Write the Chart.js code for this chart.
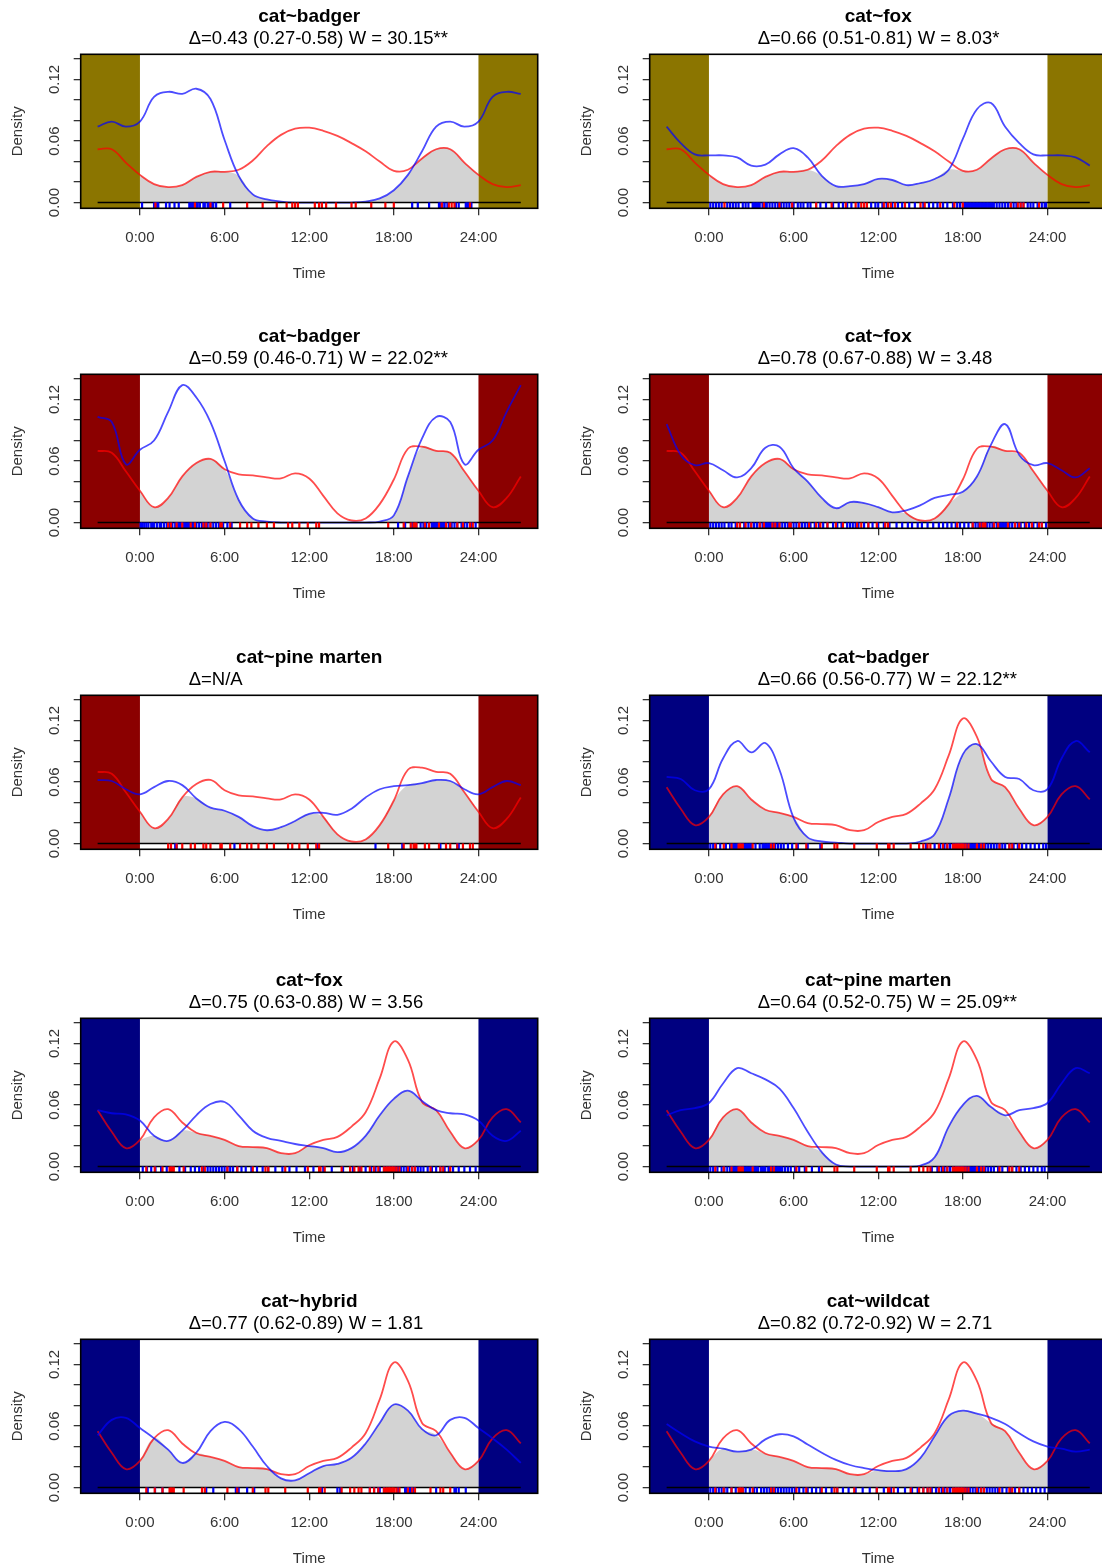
<!DOCTYPE html>
<html>
<head>
<meta charset="utf-8">
<script src="https://cdn.jsdelivr.net/npm/chart.js@4.4.1/dist/chart.umd.min.js"></script>
<style>
  html, body { margin: 0; padding: 0; background: #fff; }
  #page { position: relative; width: 1102px; height: 1566px; overflow: hidden; }
  #page canvas { position: absolute; }
</style>
</head>
<body>
<div id="page"></div>
<script>
// hour of day 0..23; curves are circular so -3..0 and 24..27 reuse these values
const HOURS = [0,1,2,3,4,5,6,7,8,9,10,11,12,13,14,15,16,17,18,19,20,21,22,23];
const PLOT_HOURS = [-3,-2,-1,0,1,2,3,4,5,6,7,8,9,10,11,12,13,14,15,16,17,18,19,20,21,22,23,24,25,26,27];
const DAY_HOURS = [0,1,2,3,4,5,6,7,8,9,10,11,12,13,14,15,16,17,18,19,20,21,22,23,24];

const X_TICKS = [0, 6, 12, 18, 24];
const X_TICK_LABELS = ['0:00', '6:00', '12:00', '18:00', '24:00'];
const Y_TICKS = [0, 0.02, 0.04, 0.06, 0.08, 0.10, 0.12, 0.14];
const Y_TICK_LABELS = ['0.00', '', '', '0.06', '', '', '0.12', ''];

const panelNames = ['cat~badger', 'cat~fox', 'cat~badger', 'cat~fox', 'cat~pine marten',
  'cat~badger', 'cat~fox', 'cat~pine marten', 'cat~hybrid', 'cat~wildcat'];
const panelStats = [
  'Δ=0.43 (0.27-0.58) W = 30.15**',
  'Δ=0.66 (0.51-0.81) W = 8.03*',
  'Δ=0.59 (0.46-0.71) W = 22.02**',
  'Δ=0.78 (0.67-0.88) W = 3.48',
  'Δ=N/A',
  'Δ=0.66 (0.56-0.77) W = 22.12**',
  'Δ=0.75 (0.63-0.88) W = 3.56',
  'Δ=0.64 (0.52-0.75) W = 25.09**',
  'Δ=0.77 (0.62-0.89) W = 1.81',
  'Δ=0.82 (0.72-0.92) W = 2.71'
];
const panelSeasons = ['olive', 'olive', 'darkred', 'darkred', 'darkred', 'navy', 'navy', 'navy', 'navy', 'navy'];

// cat density (red) per season
const catOlive   = [0.027,0.018,0.015,0.017,0.025,0.030,0.030,0.032,0.041,0.055,0.066,0.072,0.073,0.070,0.065,0.058,0.050,0.040,0.031,0.032,0.043,0.052,0.052,0.039];
const catDarkRed = [0.031,0.015,0.024,0.045,0.058,0.062,0.052,0.047,0.046,0.044,0.043,0.048,0.043,0.026,0.009,0.002,0.004,0.018,0.042,0.072,0.074,0.070,0.068,0.050];
const catNavy    = [0.026,0.048,0.056,0.043,0.033,0.030,0.026,0.020,0.019,0.018,0.013,0.013,0.021,0.026,0.029,0.039,0.053,0.086,0.122,0.104,0.063,0.055,0.034,0.018];

// other species density (blue), one per panel
const badgerOlive       = [0.079,0.103,0.108,0.106,0.111,0.101,0.061,0.026,0.008,0.003,0.001,0,0,0,0,0,0.001,0.004,0.012,0.027,0.050,0.074,0.079,0.074];
const foxOlive          = [0.046,0.046,0.044,0.036,0.037,0.047,0.053,0.044,0.026,0.016,0.016,0.018,0.023,0.022,0.017,0.019,0.023,0.032,0.062,0.091,0.097,0.074,0.058,0.047];
const badgerDarkRed     = [0.071,0.080,0.108,0.134,0.122,0.098,0.060,0.022,0.004,0.001,0,0,0,0,0,0,0,0.001,0.007,0.045,0.082,0.103,0.098,0.057];
const foxDarkRed        = [0.058,0.051,0.044,0.053,0.073,0.074,0.053,0.040,0.024,0.014,0.020,0.019,0.015,0.010,0.012,0.017,0.024,0.027,0.030,0.045,0.076,0.096,0.066,0.056];
const pineMartenDarkRed = [0.048,0.055,0.061,0.057,0.044,0.035,0.032,0.026,0.017,0.013,0.016,0.022,0.029,0.030,0.028,0.034,0.045,0.053,0.056,0.057,0.059,0.062,0.061,0.053];
const badgerNavy        = [0.053,0.083,0.100,0.089,0.098,0.072,0.025,0.006,0.002,0.001,0,0,0,0,0,0.002,0.009,0.044,0.087,0.097,0.080,0.065,0.063,0.052];
const foxNavy           = [0.045,0.030,0.025,0.035,0.050,0.061,0.063,0.050,0.035,0.028,0.025,0.022,0.020,0.018,0.014,0.018,0.030,0.050,0.066,0.074,0.064,0.055,0.052,0.051];
const pineMartenNavy    = [0.062,0.081,0.096,0.091,0.085,0.076,0.057,0.034,0.014,0.002,0,0,0,0,0,0.001,0.009,0.039,0.060,0.069,0.058,0.050,0.055,0.057];
const hybridNavy        = [0.058,0.048,0.037,0.024,0.034,0.055,0.064,0.057,0.040,0.021,0.009,0.007,0.014,0.021,0.023,0.029,0.043,0.063,0.081,0.075,0.057,0.051,0.066,0.068];
const wildcatNavy       = [0.040,0.038,0.035,0.037,0.047,0.052,0.050,0.042,0.034,0.027,0.022,0.019,0.017,0.016,0.018,0.029,0.050,0.070,0.075,0.072,0.068,0.062,0.053,0.045];

// detection times (hours) for the rugs
const rugCatOlive   = [1.1,3.9,5.0,5.9,7.6,8.7,9.7,10.4,10.8,11.0,11.2,12.4,12.7,12.9,13.2,13.9,15.0,15.3,16.4,17.4,18.0,21.4,21.9,22.1,22.3,23.4];
const rugCatDarkRed = [2.0,2.2,2.6,3.0,3.6,3.9,4.5,4.7,5.0,5.7,5.8,6.4,7.1,7.6,7.9,8.4,9.0,9.5,10.5,10.8,11.3,11.9,12.5,12.7,17.6,18.7,19.2,19.4,19.5,19.6,20.2,20.5,21.2,21.7,22.0,22.5,22.9,23.4,23.6];
const rugCatNavy    = [0.45,1.05,1.6,2.1,2.2,2.3,2.4,3.1,4.4,4.6,6.2,6.9,8.0,8.9,9.1,10.3,11.9,12.7,12.8,13.1,14.3,14.9,15.2,15.5,15.7,16.3,16.6,16.9,17.3,17.45,17.55,17.65,17.75,17.85,17.95,18.05,18.2,18.4,19.0,19.3,19.5,20.6,21.3,21.5,22.0];

const rugBadgerOlive = [0.15,1.0,1.1,1.15,1.25,1.3,1.85,2.1,2.45,2.75,3.5,3.6,3.7,3.8,4.0,4.1,4.25,4.5,4.6,4.8,4.9,5.0,5.1,5.2,5.4,6.4,19.3,19.7,20.5,21.2,21.3,21.35,21.45,21.6,21.8,22.4,22.6,23.1,23.2,23.3,23.5];
const rugFoxOlive = [0.1,0.3,0.5,0.7,0.9,1.3,1.5,1.7,1.9,2.1,2.4,2.6,2.8,3.1,3.2,3.3,3.4,3.5,3.6,3.8,4.0,4.1,4.3,4.5,4.7,4.9,5.1,5.3,5.5,5.7,5.9,6.0,6.3,6.5,6.7,7.0,7.2,7.6,7.9,8.3,8.8,9.2,9.5,9.8,10.1,10.6,11.0,11.5,11.8,12.0,12.3,12.6,13.0,13.4,13.7,14.2,14.6,15.2,15.6,15.9,16.2,16.6,16.9,17.3,17.6,17.8,18.0,18.1,18.2,18.3,18.4,18.5,18.6,18.7,18.8,18.9,19.0,19.1,19.2,19.3,19.4,19.5,19.6,19.7,19.8,19.9,20.0,20.1,20.2,20.4,20.6,20.8,21.0,21.2,21.4,21.6,21.8,22.1,22.3,22.6,22.8,23.0,23.3,23.6,23.8,23.9];
const rugBadgerDarkRed = [0.05,0.15,0.3,0.45,0.6,0.8,0.9,1.0,1.2,1.4,1.5,1.7,1.9,2.1,2.3,2.5,2.6,2.7,2.8,2.9,3.0,3.1,3.2,3.3,3.4,3.5,3.7,3.8,4.0,4.2,4.4,4.6,4.8,5.0,5.2,5.4,5.6,5.9,6.2,6.5,18.3,18.8,19.3,19.6,19.9,20.1,20.3,20.5,20.7,20.8,20.9,21.0,21.1,21.2,21.3,21.4,21.5,21.6,21.7,21.9,22.1,22.3,22.5,22.8,23.0,23.2,23.5,23.8];
const rugFoxDarkRed = [0.1,0.3,0.5,0.7,0.9,1.1,1.4,1.6,1.9,2.2,2.5,2.8,3.0,3.2,3.4,3.6,3.8,4.0,4.1,4.2,4.3,4.4,4.5,4.6,4.7,4.8,4.9,5.0,5.2,5.4,5.6,5.8,6.0,6.2,6.4,6.6,6.8,7.0,7.2,7.5,7.8,8.1,8.4,8.8,9.1,9.4,9.8,10.0,10.2,10.4,10.6,11.0,11.3,11.6,12.0,12.4,12.8,13.3,13.7,14.1,14.4,14.8,15.1,15.5,15.9,16.3,16.6,16.9,17.2,17.5,17.8,18.1,18.4,18.7,18.9,19.1,19.3,19.5,19.7,19.9,20.1,20.2,20.4,20.5,20.6,20.7,20.8,20.9,21.0,21.1,21.2,21.3,21.5,21.7,21.9,22.1,22.4,22.7,23.0,23.3,23.6,23.9];
const rugPineMartenDarkRed = [2.5,2.6,6.7,12.6,16.7,18.6,21.3,22.5,22.6];
const rugBadgerNavy = [0.1,0.3,0.5,0.8,1.2,1.5,1.7,1.8,1.9,2.0,2.1,2.2,2.3,2.4,2.5,2.6,2.7,2.8,2.9,3.0,3.3,3.6,3.8,3.9,4.0,4.1,4.2,4.3,4.4,4.5,4.7,4.9,5.1,5.3,5.6,5.9,6.3,7.0,7.9,15.4,16.0,16.4,16.7,16.9,17.1,17.3,17.4,17.5,17.6,17.7,17.8,17.9,18.0,18.1,18.2,18.3,18.4,18.5,18.6,18.7,18.8,18.9,19.0,19.1,19.2,19.3,19.4,19.6,19.8,20.0,20.2,20.4,20.6,20.8,21.0,21.3,21.6,21.9,22.2,22.5,22.8,23.1,23.4,23.7,23.9];
const rugFoxNavy = [0.2,0.5,0.8,1.1,1.5,1.9,2.3,2.8,3.2,3.6,3.9,4.2,4.5,4.8,5.0,5.2,5.4,5.6,5.8,6.0,6.2,6.4,6.6,6.9,7.2,7.5,7.9,8.3,8.7,9.1,9.6,10.1,10.6,11.1,11.7,12.3,13.0,13.6,14.4,15.1,15.6,16.0,16.4,16.7,17.0,17.3,17.5,17.7,17.9,18.1,18.3,18.5,18.7,18.9,19.1,19.3,19.5,19.7,19.9,20.1,20.4,20.7,21.0,21.3,21.6,21.9,22.2,22.6,23.0,23.4,23.8];
const rugPineMartenNavy = [0.1,0.3,0.6,0.9,1.1,1.3,1.5,1.6,1.7,1.8,1.9,2.0,2.1,2.2,2.3,2.4,2.5,2.6,2.7,2.8,2.9,3.0,3.1,3.2,3.3,3.4,3.5,3.7,3.8,3.9,4.0,4.2,4.3,4.4,4.5,4.6,4.7,4.8,4.9,5.0,5.1,5.2,5.4,5.6,5.8,6.1,6.4,6.8,7.3,7.8,15.8,16.2,16.5,16.7,16.9,17.1,17.3,17.5,17.6,17.7,17.8,17.9,18.0,18.1,18.2,18.3,18.4,18.5,18.6,18.7,18.8,18.9,19.0,19.1,19.2,19.3,19.4,19.5,19.6,19.8,20.0,20.2,20.5,20.8,21.2,21.5,21.8,22.1,22.4,22.7,23.0,23.3,23.6,23.8];
const rugHybridNavy = [0.55,1.07,1.6,4.7,5.2,6.8,7.0,7.6,8.1,12.9,14.0,14.2,16.3,16.6,16.9,17.0,17.3,18.3,18.8,18.9,19.0,19.1,19.2,19.3,19.4,21.0,22.3,22.4,22.6,23.1];
const rugWildcatNavy = [0.1,0.3,0.5,0.7,0.9,1.1,1.3,1.6,1.9,2.2,2.4,2.6,2.9,3.2,3.4,3.7,3.9,4.1,4.3,4.5,4.7,4.9,5.1,5.3,5.5,5.7,5.9,6.1,6.4,6.7,7.0,7.3,7.6,7.9,8.3,8.7,9.1,9.5,9.9,10.4,10.9,11.4,11.9,12.4,12.9,13.4,13.9,14.4,14.8,15.2,15.5,15.8,16.1,16.3,16.5,16.7,16.9,17.1,17.3,17.5,17.7,17.9,18.1,18.3,18.5,18.7,18.9,19.1,19.3,19.5,19.7,19.9,20.1,20.3,20.5,20.8,21.1,21.4,21.7,22.0,22.3,22.6,22.9,23.2,23.5,23.8];

const catBySeason = { olive: catOlive, darkred: catDarkRed, navy: catNavy };
const catRugBySeason = { olive: rugCatOlive, darkred: rugCatDarkRed, navy: rugCatNavy };
const otherDensity = [badgerOlive, foxOlive, badgerDarkRed, foxDarkRed, pineMartenDarkRed,
  badgerNavy, foxNavy, pineMartenNavy, hybridNavy, wildcatNavy];
const otherRug = [rugBadgerOlive, rugFoxOlive, rugBadgerDarkRed, rugFoxDarkRed, rugPineMartenDarkRed,
  rugBadgerNavy, rugFoxNavy, rugPineMartenNavy, rugHybridNavy, rugWildcatNavy];

// ---- styling / layout ----
const SEASON_COLORS = { olive: '#8B7500', darkred: '#8B0000', navy: '#000080' };
const FONT = '"Liberation Sans", Arial, Helvetica, sans-serif';
const COL_LEFT = [0, 569];
const ROW_TOP = [0, 320, 641, 964, 1285];
const RUG_Y = -0.0028;
const SUBTITLE_INDENT = 108;   // R put the stats line left-aligned, not centred

const wrap = (arr, h) => arr[((h % 24) + 24) % 24];

const seasonBox = {
  id: 'seasonBox',
  beforeDatasetsDraw(chart, args, opts) {
    const { ctx, chartArea: a, scales: { x } } = chart;
    const x0 = x.getPixelForValue(X_TICKS[0]);
    const x1 = x.getPixelForValue(X_TICKS[X_TICKS.length - 1]);
    ctx.save();
    ctx.fillStyle = opts.color;
    ctx.fillRect(a.left, a.top, x0 - a.left, a.bottom - a.top);
    ctx.fillRect(x1, a.top, a.right - x1, a.bottom - a.top);
    ctx.restore();
  },
  afterDatasetsDraw(chart) {
    const { ctx, chartArea: a } = chart;
    ctx.save();
    ctx.strokeStyle = '#000';
    ctx.lineWidth = 1.6;
    ctx.strokeRect(a.left, a.top, a.right - a.left, a.bottom - a.top);
    ctx.restore();
  },
  afterDraw(chart, args, opts) {
    const { ctx, chartArea: a } = chart;
    ctx.save();
    ctx.font = '18.5px ' + FONT;
    ctx.fillStyle = '#000';
    ctx.textAlign = 'left';
    ctx.textBaseline = 'middle';
    ctx.fillText(opts.stats, a.left + SUBTITLE_INDENT, a.top - 15.3);
    ctx.restore();
  }
};

function rugSet(times, color, order) {
  return {
    data: times.map(t => ({ x: t, y: RUG_Y })),
    showLine: false,
    pointStyle: 'line',
    pointRotation: 90,
    pointRadius: 3,
    pointBorderWidth: 2.2,
    pointBorderColor: color,
    order
  };
}

const page = document.getElementById('page');

panelNames.forEach((name, i) => {
  const season = panelSeasons[i];
  const cat = catBySeason[season];
  const other = otherDensity[i];

  const canvas = document.createElement('canvas');
  canvas.width = 551;
  canvas.height = 300;
  canvas.style.left = COL_LEFT[i % 2] + 'px';
  canvas.style.top = ROW_TOP[Math.floor(i / 2)] + 'px';
  page.appendChild(canvas);

  const tickFont = { family: FONT, size: 15, lineHeight: '18px' };

  new Chart(canvas, {
    type: 'line',
    data: {
      datasets: [
        rugSet(catRugBySeason[season], '#ff0000', 0),
        rugSet(otherRug[i], '#0000ff', 1),
        {
          data: [{ x: PLOT_HOURS[0], y: 0 }, { x: PLOT_HOURS[PLOT_HOURS.length - 1], y: 0 }],
          borderColor: '#000', borderWidth: 1.6, pointRadius: 0, order: 2
        },
        {
          data: PLOT_HOURS.map(h => ({ x: h, y: wrap(other, h) })),
          borderColor: 'rgba(0,0,255,0.7)', borderWidth: 1.8, tension: 0.4, pointRadius: 0, order: 3
        },
        {
          data: PLOT_HOURS.map(h => ({ x: h, y: wrap(cat, h) })),
          borderColor: 'rgba(255,0,0,0.7)', borderWidth: 1.8, tension: 0.4, pointRadius: 0, order: 4
        },
        {
          data: DAY_HOURS.map(h => ({ x: h, y: Math.min(wrap(cat, h), wrap(other, h)) })),
          borderWidth: 0, borderColor: 'rgba(0,0,0,0)', backgroundColor: '#d3d3d3',
          fill: 'origin', tension: 0.4, pointRadius: 0, order: 5
        }
      ]
    },
    options: {
      responsive: false,
      animation: false,
      events: [],
      layout: { padding: { left: 0, right: 13.3, top: 0, bottom: 11.7 } },
      plugins: {
        legend: { display: false },
        tooltip: { enabled: false },
        seasonBox: { color: SEASON_COLORS[season], stats: panelStats[i] },
        title: {
          display: true, text: name, fullSize: false, color: '#000',
          font: { family: FONT, size: 19, weight: 'bold', lineHeight: '22px' },
          padding: { top: 6, bottom: 26.3 }
        }
      },
      scales: {
        x: {
          type: 'linear', min: -4.2, max: 28.2,
          afterBuildTicks: s => { s.ticks = X_TICKS.map(v => ({ value: v })); },
          afterFit: s => { s.height = 80; },
          ticks: {
            callback: (v, idx) => X_TICK_LABELS[idx],
            autoSkip: false, maxRotation: 0, padding: 13.5, color: '#333', font: tickFont
          },
          grid: { drawOnChartArea: false, drawTicks: true, tickLength: 7, color: '#333', lineWidth: 1.3 },
          border: { display: false },
          title: { display: true, text: 'Time', color: '#333', font: tickFont, padding: { top: 0, bottom: 5.5 } }
        },
        y: {
          type: 'linear', min: -0.0056, max: 0.1446,
          afterBuildTicks: s => { s.ticks = Y_TICKS.map(v => ({ value: v })); },
          afterFit: s => { s.width = 80.7; },
          ticks: {
            callback: (v, idx) => Y_TICK_LABELS[idx],
            autoSkip: false, minRotation: 90, maxRotation: 90, crossAlign: 'center',
            padding: 4.2, color: '#333', font: tickFont
          },
          grid: { drawOnChartArea: false, drawTicks: true, tickLength: 7, color: '#333', lineWidth: 1.3 },
          border: { display: false },
          title: { display: true, text: 'Density', color: '#333', font: tickFont, padding: { top: 9, bottom: 0 } }
        }
      }
    },
    plugins: [seasonBox]
  });
});
</script>
</body>
</html>
